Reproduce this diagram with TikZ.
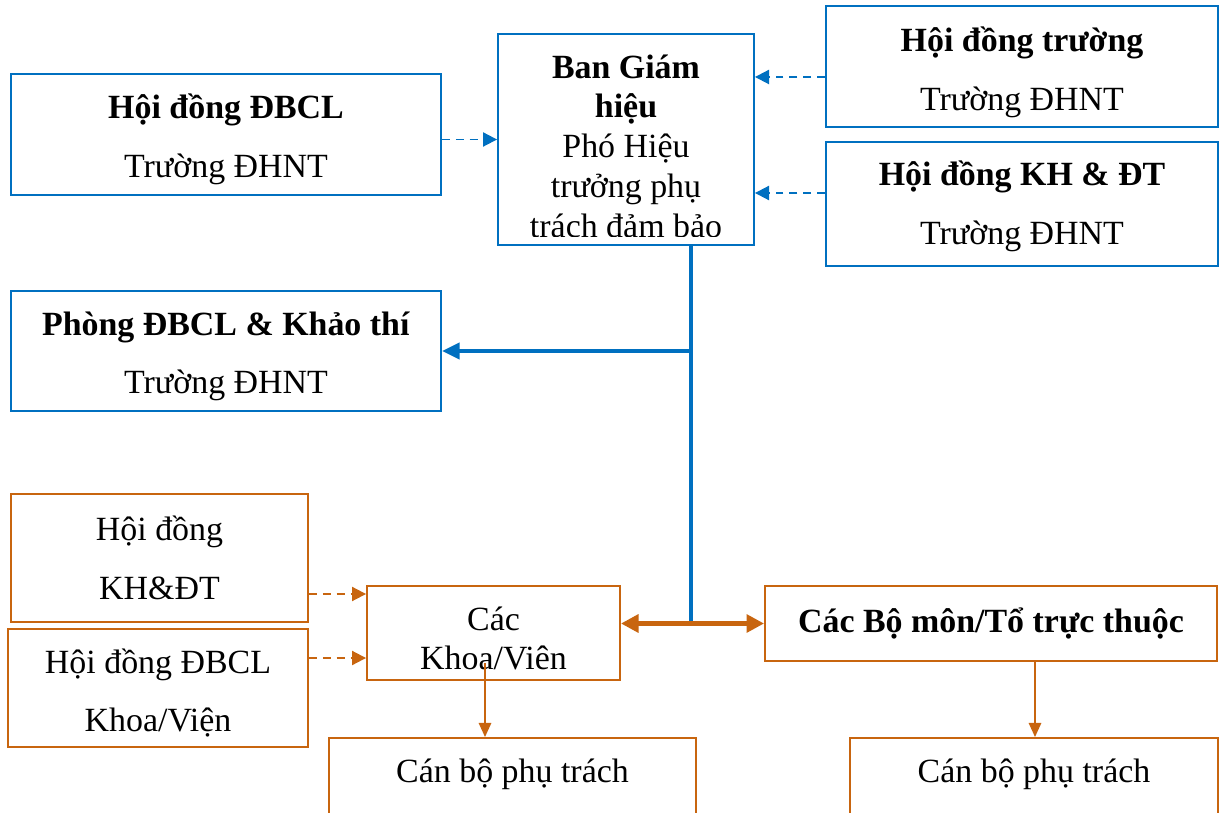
\documentclass[tikz,border=0pt]{standalone}
\usepackage{fontspec}
\setmainfont{Liberation Serif}
\usetikzlibrary{arrows.meta}
\definecolor{dbclblue}{HTML}{0070C0}
\definecolor{khoaorange}{HTML}{C8650F}
\newcommand{\topgap}[1]{\rule{0pt}{#1}}

\begin{document}
\begin{tikzpicture}[x=0.02cm,y=-0.02cm,
  bluebox/.style={draw=dbclblue,line width=1.1pt,inner sep=0pt,align=center,
    font=\fontsize{19.3}{33.3}\selectfont},
  orangebox/.style={draw=khoaorange,line width=1.1pt,inner sep=0pt,align=center,
    font=\fontsize{19.3}{33.3}\selectfont},
  textup/.style={execute at end node={\rule[-#1]{0pt}{0pt}}},
  bluedash/.style={draw=dbclblue,line width=1.1pt,dash pattern=on 4.5pt off 3.4pt,
    -{Triangle[length=8pt,width=8pt]}},
  orangedash/.style={draw=khoaorange,line width=1.1pt,dash pattern=on 4.5pt off 3.4pt,
    -{Triangle[length=8pt,width=8pt]}},
  bluethick/.style={draw=dbclblue,line width=2.8pt},
  orangethick/.style={draw=khoaorange,line width=2.8pt},
  orangethin/.style={draw=khoaorange,line width=1.1pt,-{Triangle[length=8pt,width=7pt]}}]
\useasboundingbox (0,0) rectangle (1219,813);
\clip (0,0) rectangle (1219,813);

% upper level
\node[bluebox,minimum width=8.6cm,minimum height=2.42cm] (hdDBCL) at (226,134.5)
  {\topgap{19.7pt}\textbf{Hội đồng ĐBCL}\\Trường ĐHNT};
\node[bluebox,minimum width=5.12cm,minimum height=4.22cm] (bgh) at (626,139.5) {};
\begin{scope}
  \clip (bgh.north west) rectangle ([yshift=0.18cm]bgh.south east);
  \node[align=center,font=\fontsize{19.3}{22.6}\selectfont] at ([yshift=-0.13cm]bgh.center)
    {\textbf{Ban Giám}\\\textbf{hiệu}\\Phó Hiệu\\trưởng phụ\\trách đảm bảo};
\end{scope}
\node[bluebox,minimum width=7.84cm,minimum height=2.42cm] (hdTruong) at (1022,66.5)
  {\topgap{20.8pt}\textbf{Hội đồng trường}\\Trường ĐHNT};
\node[bluebox,minimum width=7.84cm,minimum height=2.48cm] (hdKHDT) at (1022,204)
  {\topgap{16.5pt}\textbf{Hội đồng KH \& ĐT}\\Trường ĐHNT};
\node[bluebox,minimum width=8.6cm,minimum height=2.4cm] (phong) at (226,351)
  {\topgap{19.7pt}\textbf{Phòng ĐBCL \& Khảo thí}\\Trường ĐHNT};

% khoa level
\node[orangebox,minimum width=5.94cm,minimum height=2.56cm] (hdKhoa) at (159.5,558)
  {Hội đồng\\KH\&ĐT};
\node[orangebox,minimum width=6cm,minimum height=2.36cm] (hdDBCLkhoa) at (158,688)
  {\topgap{19.7pt}Hội đồng ĐBCL\\Khoa/Viện};
\node[orangebox,minimum width=5.06cm,minimum height=1.88cm,
  font=\fontsize{19.3}{22.3}\selectfont] (khoa) at (493.5,633) {\topgap{20pt}Các\\Khoa/Viên};
\node[orangebox,minimum width=9.04cm,minimum height=1.5cm] (bomon) at (991,623.5)
  {\textbf{Các Bộ môn/Tổ trực thuộc}};
\node[orangebox,textup=9.5pt,minimum width=7.34cm,minimum height=1.64cm] (cbLeft) at (512.5,779)
  {Cán bộ phụ trách};
\node[orangebox,textup=9.5pt,minimum width=7.36cm,minimum height=1.64cm] (cbRight) at (1034,779)
  {Cán bộ phụ trách};

% dashed links
\coordinate (t1) at ([yshift=-0.21cm]hdTruong.west);
\coordinate (t2) at ([yshift=0.22cm]hdKHDT.west);
\draw[bluedash] (hdDBCL.east |- bgh.west) -- (bgh.west);
\draw[bluedash] (t1) -- (t1 -| bgh.east);
\draw[bluedash] (t2) -- (t2 -| bgh.east);
\coordinate (k1) at ([yshift=-0.72cm]hdKhoa.east);
\coordinate (k2) at ([yshift=0.6cm]hdDBCLkhoa.east);
\draw[orangedash] (k1) -- (k1 -| khoa.west);
\draw[orangedash] (k2) -- (k2 -| khoa.west);

% main line
\coordinate (j1) at ([xshift=1.3cm]bgh.south);
\draw[bluethick] (j1) -- (j1 |- bomon.west);
\draw[bluethick,-{Triangle[length=10pt,width=9pt]}] (j1 |- phong.east) -- (phong.east);
\draw[orangethick,{Triangle[length=10pt,width=10pt]}-{Triangle[length=10pt,width=10pt]}]
  (khoa.east |- bomon.west) -- (bomon.west);

% down to staff
\coordinate (k3) at ([xshift=-0.17cm,yshift=-0.6cm]khoa.center);
\coordinate (b1) at ([xshift=0.88cm]bomon.south);
\draw[orangethin] (k3) -- (k3 |- cbLeft.north);
\draw[orangethin] (b1) -- (b1 |- cbRight.north);
\end{tikzpicture}
\end{document}
